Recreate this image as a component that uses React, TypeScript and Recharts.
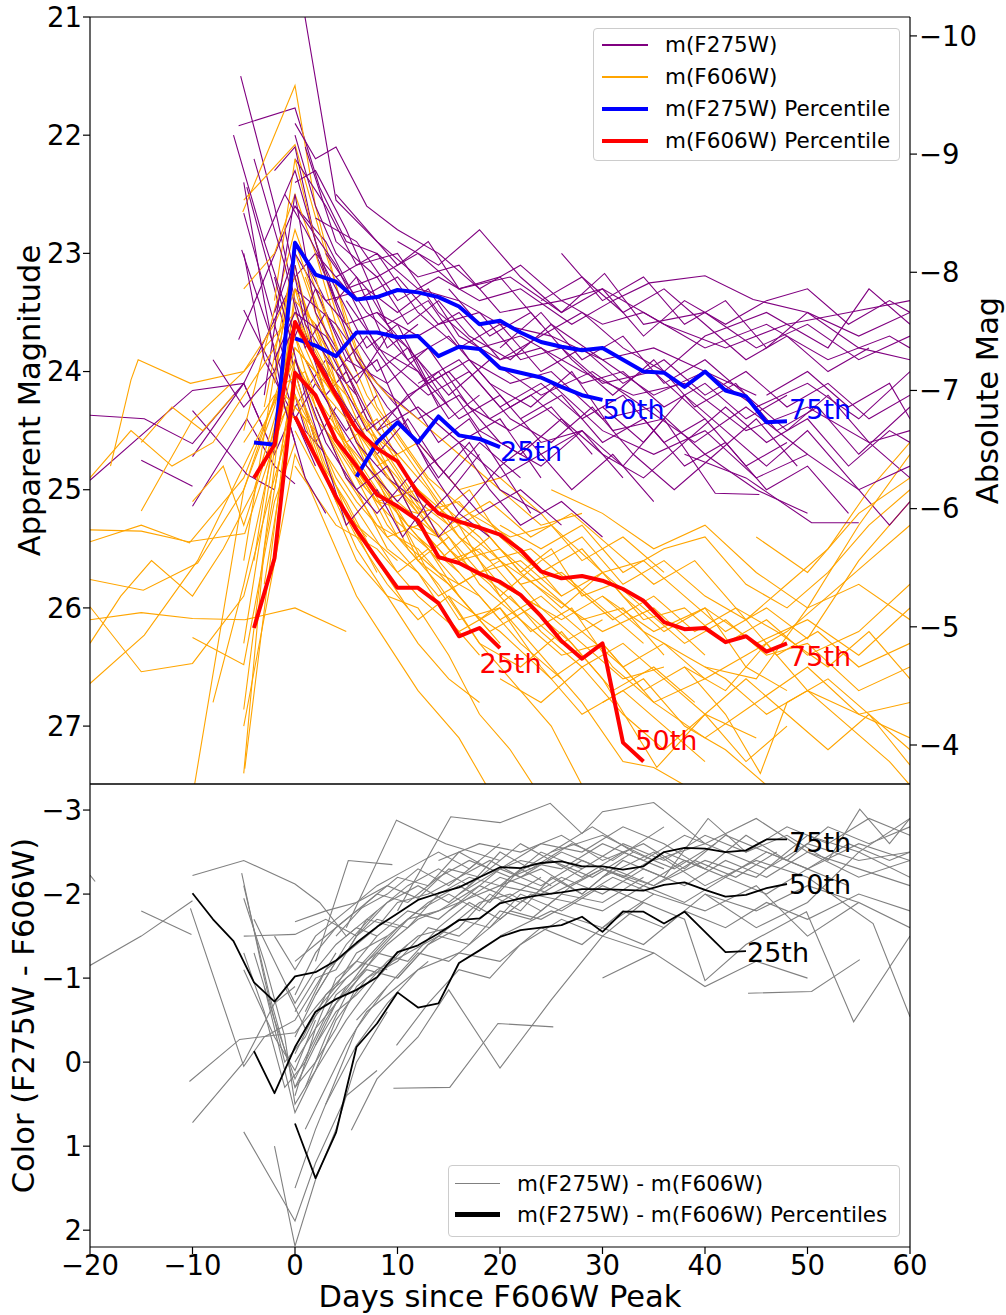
import React from 'react';
import { LineChart, Line, XAxis, YAxis, ReferenceDot, ReferenceLine } from 'recharts';

type Pt = [number, number];

// ---------- axes ----------
const xTicks = [-20, -10, 0, 10, 20, 30, 40, 50, 60];
const appMagTicks = [21, 22, 23, 24, 25, 26, 27];
const absMagTicks = [-10, -9, -8, -7, -6, -5, -4];
const colorTicks = [-3, -2, -1, 0, 1, 2];
const distanceModulus = 31.16;
const appMagDomain: Pt = [21, 27.49];
const colorDomain: Pt = [-3.31, 2.2];
const dayDomain: Pt = [-20, 60];

// ---------- individual light curves: m(F275W) ----------
const f275wCurves: Pt[][] = [
  [[-20, 24.37], [-14.7, 24.4], [-10, 24.61], [-5, 24.1], [-2, 24.7], [0, 24.3], [3, 23.9], [6, 24.2]],
  [[-20, 24.92], [-13.7, 24.44], [-10, 24.16], [-5, 24.1], [-3, 24.5]],
  [[-15, 24.75], [-10, 24.97]],
  [[-10, 25.14], [-4.7, 24.4], [-2, 24.8], [0, 24.95]],
  [[-10, 24.33], [-4.7, 24.87], [-2, 25.0]],
  [[-10, 24.72], [-7, 24.35], [-5, 24.1], [0, 23.2], [2, 23.0], [5, 23.6], [8, 23.5], [12, 23.9], [15, 24.3]],
  [[-5.3, 21.5], [-2, 22.6], [0, 23.4], [3, 24.2], [5, 24.0], [8, 24.5], [12, 24.3], [16, 24.6], [20, 24.4], [24, 24.9]],
  [[-5.5, 21.92], [0, 21.77], [2.4, 22.44], [5, 22.9], [8, 23.0], [12, 23.3], [16, 23.4], [20, 23.6], [25, 23.7], [30, 23.9], [35, 23.8], [40, 24.0], [45, 24.2]],
  [[0, 20.5], [4, 22.55], [8, 22.9], [12, 23.2], [16, 23.1], [20, 23.5], [26, 23.4], [30, 23.6], [34, 23.5], [40, 23.8], [46, 23.6], [52, 23.9], [58, 23.7], [60, 23.8]],
  [[-4.7, 22.44], [-2, 23.3], [0, 24.0], [2, 24.6], [4, 24.3]],
  [[-5, 22.66], [-2, 23.6], [1, 24.5], [3, 24.7]],
  [[-5.2, 22.97], [-2, 23.8], [0, 24.4], [2, 24.1], [5, 24.5], [8, 24.2]],
  [[-5, 23.48], [-2, 24.0], [0, 24.6]],
  [[-5.5, 23.73], [0, 22.6], [3, 22.9], [6, 23.4], [10, 23.2], [14, 23.6], [18, 23.5], [22, 23.9], [26, 23.8], [30, 24.1], [35, 24.0], [40, 24.4]],
  [[0, 22.2], [3, 22.6], [6, 23.1], [10, 23.0], [14, 23.5], [18, 23.8], [22, 23.7], [28, 24.0], [33, 24.2], [38, 24.1], [44, 24.5], [50, 24.3], [56, 24.6], [60, 24.5]],
  [[0, 22.4], [2, 22.3], [5, 22.8], [9, 23.6], [13, 23.4], [17, 23.9], [21, 24.1], [25, 24.0], [30, 24.4], [35, 24.3], [40, 24.7], [45, 25.0], [50, 25.2]],
  [[0, 22.6], [4, 23.1], [8, 23.8], [12, 24.0], [16, 24.4], [20, 24.2], [24, 24.6], [28, 24.5], [32, 24.9]],
  [[0, 22.9], [3, 23.4], [7, 23.3], [11, 23.9], [15, 23.7], [19, 24.1], [23, 24.3], [27, 24.0], [31, 24.5], [36, 24.4], [41, 25.03], [45.3, 25.04]],
  [[1, 22.1], [4, 22.9], [8, 23.2], [12, 23.0], [16, 23.3], [21, 23.2], [26, 23.5], [30.2, 23.17], [34, 23.6], [40, 23.5], [45, 23.8], [50, 23.6], [55, 23.9], [60, 23.7]],
  [[2, 22.7], [6, 22.9], [10, 23.4], [14, 23.2], [18, 23.4], [22, 23.3], [27, 23.6], [31, 23.4], [34.6, 23.25], [40, 23.19], [44.7, 23.39], [50, 23.5], [55, 23.8], [60, 23.9]],
  [[3, 23.0], [7, 23.5], [11, 23.8], [15, 24.2], [19, 23.9], [24, 24.2], [29, 24.0], [34, 24.3], [39, 24.6], [44, 24.3], [50, 24.7]],
  [[-2, 23.5], [0, 23.0], [2, 23.3], [5, 23.9], [9, 24.1], [13, 23.8], [17, 24.3], [21, 24.5], [25, 24.3], [29, 24.7]],
  [[0, 23.3], [4, 23.6], [8, 24.1], [12, 24.4], [16, 24.2], [20, 24.6], [24, 24.8], [28, 24.5]],
  [[4, 23.2], [8, 23.0], [12, 23.5], [16, 23.8], [20, 23.6], [24, 24.0], [28, 23.8], [32, 24.1], [36, 23.9], [40, 24.2], [44, 24.0], [48, 24.3], [52, 24.1], [56, 24.4], [60, 24.2]],
  [[6, 23.9], [10, 24.3], [14, 24.0], [18, 24.5], [22, 24.7], [26, 24.4], [30, 24.7], [34, 24.9], [38, 24.6], [42, 24.3], [46, 24.6], [50, 24.4], [54, 24.8], [58, 24.5], [60, 24.6]],
  [[10, 22.9], [14, 23.1], [18, 22.8], [22, 23.2], [26, 23.5], [30, 23.3], [34, 23.7], [38, 23.4], [42, 23.6], [46, 23.4], [50, 23.3], [54, 23.6], [58, 23.4], [60, 23.5]],
  [[20, 23.8], [24, 23.5], [28, 23.9], [32, 23.7], [36, 24.1], [40, 23.9], [44, 24.2], [48, 24.5], [52, 24.2], [56, 24.6], [60, 24.9]],
  [[16, 24.6], [20, 24.9], [24, 24.7], [28, 24.5], [32, 24.8], [36, 24.4]],
  [[30, 24.3], [34, 24.6], [38, 24.2], [42, 24.5], [46, 24.8], [50, 24.5], [54, 24.9], [58, 25.3], [60, 25.1]],
  [[0, 21.9], [2, 22.2], [4, 22.1], [7, 22.6], [10, 22.8], [14, 23.0], [18, 23.3], [22, 23.1], [26, 23.4], [30, 23.3], [36, 23.6], [42, 23.8], [48, 23.6], [54, 23.5], [60, 23.4]],
  [[-1, 22.8], [1, 23.6], [4, 24.0], [7, 23.7], [11, 24.2], [15, 24.0], [19, 24.4], [23, 24.2], [27, 24.5]],
  [[-3, 24.2], [0, 22.5], [2, 23.5], [4, 23.8], [7, 24.4], [10, 24.7]],
  [[-5, 23.0], [-3, 23.9], [0, 24.4], [2, 24.8]],
  [[2, 23.0], [5, 23.3], [8, 23.2], [11, 23.6], [14, 23.4], [17, 23.7], [21, 23.9], [25, 23.6], [30, 23.9], [35, 24.2], [40, 24.0], [45, 24.3], [50, 24.1], [55, 24.4], [60, 24.0]],
  [[12, 24.1], [16, 23.9], [20, 24.3], [24, 24.1], [28, 24.4], [32, 24.2], [36, 24.6], [40, 24.4], [44, 24.8], [48, 24.6]],
  [[8, 23.5], [12, 23.7], [16, 23.5], [20, 23.9], [24, 23.7], [28, 23.5], [32, 23.8], [36, 24.0], [40, 23.7], [46, 23.5], [52, 23.8], [56, 23.3], [60, 23.6]],
  [[24, 23.4], [28, 23.2], [32, 23.5], [36, 23.3], [40, 23.6], [44, 23.9], [48, 23.7], [52, 24.0], [56, 23.8]],
  [[38, 24.7], [44, 24.9], [50.4, 25.28], [55, 25.28]],
  [[-2, 22.3], [0, 22.1], [2, 22.9], [4, 23.4], [6, 23.2], [9, 23.8], [12, 23.6]],
  [[-4, 22.2], [-1, 23.1], [1, 23.8], [3, 23.5], [6, 24.0]],
  [[4, 22.5], [7, 22.8], [10, 23.1], [13, 22.9], [16, 23.3], [20, 23.2], [24, 23.6]],
  [[-8, 23.9], [-5, 24.3], [-2, 24.0], [0, 23.6], [3, 24.0], [6, 24.6], [9, 24.9], [12, 25.1]],
  [[-3, 22.9], [0, 22.3], [3, 23.2], [6, 23.9], [9, 24.3], [12, 24.6], [15, 24.9], [18, 24.6], [22, 24.9]],
  [[1, 23.9], [4, 24.4], [7, 24.8], [10, 25.1], [13, 24.8], [16, 25.2], [19, 25.4]],
  [[2, 23.6], [5, 24.1], [8, 23.9], [11, 24.5], [14, 24.9], [17, 24.6], [20, 25.0], [24, 25.2]],
  [[0, 23.1], [2, 23.9], [5, 24.3], [8, 24.7], [11, 24.4], [14, 24.8], [18, 25.2], [22, 25.0], [26, 25.3]],
  [[-1, 22.5], [1, 22.8], [4, 23.3], [7, 23.8], [10, 23.6], [13, 24.1], [17, 23.9], [21, 24.3], [25, 24.1], [30, 24.5], [35, 24.7], [40, 24.5], [45, 24.9], [50, 24.7], [55, 25.0], [60, 24.8]],
  [[5, 23.4], [9, 23.9], [13, 24.2], [17, 24.0], [21, 24.4], [25, 24.6], [29, 24.3], [33, 24.7], [37, 25.0], [41, 24.7], [45, 24.4], [49, 24.8]],
  [[15, 23.3], [19, 23.7], [23, 23.5], [27, 23.9], [31, 24.2], [35, 23.9], [39, 24.3], [43, 24.1], [47, 24.5], [51, 24.3], [55, 24.7], [60, 24.3]],
  [[22, 24.4], [26, 24.2], [30, 24.6], [34, 24.4], [38, 24.8], [42, 24.6], [46, 25.0], [50, 24.8], [54, 25.2]],
  [[-6, 22.0], [-3, 22.9], [0, 23.7], [2, 23.3], [5, 23.6], [8, 24.0], [11, 23.8], [14, 24.3]],
  [[0, 22.0], [2, 22.6], [4, 23.0], [7, 23.3], [10, 23.5], [13, 23.3], [16, 23.7], [20, 23.9], [24, 23.8], [28, 24.1], [32, 24.0], [36, 24.3], [40, 24.1], [44, 24.4], [48, 24.2]],
  [[26, 23.0], [30, 23.4], [34, 23.2], [38, 23.6], [42, 23.4], [46, 23.8], [50, 23.5], [55, 23.7], [60, 23.5]],
  [[8, 24.5], [11, 24.2], [14, 24.6], [17, 24.4], [20, 24.8], [23, 24.6], [27, 25.0], [31, 24.7], [35, 25.1]],
  [[-2, 23.9], [0, 23.5], [3, 23.7], [6, 24.1], [9, 23.7], [12, 24.0], [15, 24.4], [18, 24.2]],
  [[46, 24.2], [50, 24.0], [54, 24.3], [58, 24.1], [60, 24.4]],
  [[-2, 23.2], [1, 24.2], [5, 25.3], [8, 25.0], [10.5, 25.4], [13, 25.1]],
  [[0, 23.9], [3, 24.6], [6, 25.0], [9, 24.8], [12, 25.3], [15, 25.03], [18, 24.7]],
  [[2, 24.3], [5, 24.9], [8, 25.2], [11, 24.9], [14, 25.4], [17, 25.1], [20, 24.8], [23, 25.2]],
  [[4, 24.0], [7, 24.5], [10, 24.3], [13, 24.8], [16, 24.6], [19, 25.0], [22, 25.3], [26, 25.1], [30, 25.4]],
  [[-5, 22.4], [-3, 23.4], [-1, 24.3], [1, 24.9], [3, 25.2]],
];

// ---------- individual light curves: m(F606W) ----------
const f606wCurves: Pt[][] = [
  [[-20, 25.34], [-15, 25.35], [-10.4, 25.44], [-4.9, 25.37], [-2, 24.6], [0, 24.1], [3, 24.8], [6, 25.3], [10, 25.6]],
  [[-20, 25.44], [-15, 25.3], [-10.3, 25.45], [-5, 24.9], [0, 23.8], [2, 24.0], [5, 24.6], [8, 25.0], [12, 25.4], [16, 25.8], [20, 25.6], [24, 26.0]],
  [[-20, 25.76], [-14.8, 25.85], [-9.5, 25.62], [-5, 25.0], [-2, 24.3], [0, 23.6], [3, 24.2], [6, 24.9], [9, 25.2], [13, 25.5]],
  [[-20, 26.1], [-15, 26.04], [-10, 26.09], [-4.9, 26.1], [0, 26.0], [5, 26.2]],
  [[-20, 25.99], [-15, 26.54], [-10, 26.47], [-5, 25.9], [-2, 24.9], [0, 24.3], [2, 24.5], [5, 25.2], [8, 25.7]],
  [[-20, 26.64], [-14.7, 26.23], [-9.5, 25.6], [-5, 24.8], [0, 23.9], [3, 24.4], [6, 24.7], [10, 25.1], [14, 25.4]],
  [[-10, 26.25], [-5, 26.48], [-2, 25.1], [0, 24.6]],
  [[-15, 25.18], [-10, 24.41], [-5, 24.0], [0, 23.5], [3, 24.1], [6, 24.5], [10, 25.0], [14, 25.3], [18, 25.7], [22, 25.6], [26, 25.9]],
  [[-10, 27.6], [-5, 25.0], [0, 23.7], [2, 24.3], [5, 24.9], [8, 25.3], [12, 25.5], [16, 25.9], [20, 26.3]],
  [[-5, 26.86], [-2, 24.8], [0, 23.3], [2, 23.9], [4, 24.5], [7, 24.9], [10, 25.4], [14, 25.7], [18, 25.9], [22, 26.3], [26, 26.6]],
  [[-4.9, 27.36], [0, 23.9], [2, 24.4], [5, 24.7], [8, 25.1], [12, 25.2], [16, 25.6], [20, 25.5], [24, 25.8], [28, 26.1], [32, 26.0], [36, 26.4]],
  [[-18, 24.8], [-16, 24.07], [-15.3, 23.9], [-10.2, 24.1], [-5, 24.0], [-2, 23.6], [0, 23.2], [3, 23.9], [6, 24.5]],
  [[-5.1, 22.65], [0, 21.58], [2, 22.6], [5, 23.6], [8, 24.3], [12, 24.8], [16, 25.3], [20, 25.6], [25, 25.9], [30, 26.2], [35, 26.0], [40, 26.4]],
  [[-5, 22.55], [0, 22.08], [3, 23.0], [6, 23.8], [9, 24.4], [13, 24.9], [17, 25.2], [21, 25.4], [25, 25.3], [30, 25.7]],
  [[-5, 23.3], [-2, 23.0], [0, 22.5], [2, 23.0], [4, 23.6], [7, 24.2], [10, 24.6], [14, 25.1], [18, 25.4], [22, 25.8], [26, 25.7], [30, 26.0], [34, 26.3]],
  [[-5, 24.5], [0, 22.8], [2, 23.3], [5, 24.0], [8, 24.6], [11, 25.0], [15, 25.5], [19, 25.8], [23, 26.2], [27, 26.0], [31, 26.5], [35, 26.8], [40, 26.6]],
  [[-4, 25.6], [0, 23.4], [2, 23.6], [4, 24.2], [7, 24.8], [10, 25.2], [13, 25.7], [16, 26.1], [20, 26.0], [24, 26.4], [28, 26.8], [32, 27.3], [35, 27.35], [40, 27.6]],
  [[-3, 24.3], [0, 23.0], [2, 23.5], [5, 24.4], [8, 24.9], [11, 25.3], [14, 25.4], [18, 25.2], [22, 25.5], [26, 25.9], [30, 25.7], [34, 25.6], [38, 25.9], [42, 26.2], [46, 26.0], [50, 26.26], [55, 25.6], [60, 25.1]],
  [[-2, 25.0], [0, 24.0], [2, 24.2], [5, 24.6], [8, 24.4], [11, 24.9], [14, 25.2], [17, 25.0], [20, 25.4], [24, 25.7], [28, 25.5], [32, 25.9], [36, 26.2], [40, 26.0], [44, 26.5], [48, 26.7]],
  [[0, 24.5], [3, 25.0], [6, 25.6], [9, 25.9], [12, 26.0], [15, 26.4], [18, 26.9], [21, 27.2], [24, 27.6]],
  [[0, 23.5], [3, 24.0], [6, 24.6], [9, 25.0], [12, 25.6], [15, 25.4], [18, 25.8], [22, 26.1], [26, 26.4], [30, 26.3], [34, 26.7], [38, 26.5], [42, 26.9], [45.4, 27.4], [48, 26.8], [52, 26.6], [56, 26.9], [60, 27.33]],
  [[1, 23.2], [4, 23.9], [7, 24.5], [10, 24.7], [13, 25.0], [16, 25.4], [19, 25.6], [23, 25.5], [27, 25.8], [31, 26.1], [35, 25.9], [39, 26.2], [43, 26.0], [47, 26.4], [51, 26.2], [55, 26.5], [60, 26.3]],
  [[2, 24.0], [5, 24.3], [8, 24.9], [11, 25.5], [14, 25.8], [18, 26.3], [22, 26.5], [26, 26.2], [30, 26.6], [35.3, 27.35], [40, 26.9], [45, 27.1]],
  [[5, 24.7], [8, 25.1], [12, 25.0], [16, 25.3], [20, 25.9], [24, 25.6], [28, 25.4], [32, 25.8], [36, 25.6], [40, 25.9], [44, 26.1], [48, 25.8], [52, 25.5], [56, 25.0], [60, 24.6]],
  [[10, 25.2], [14, 25.6], [18, 25.3], [22, 25.7], [26, 26.0], [30, 25.7], [34, 26.0], [38, 26.3], [42, 26.1], [46, 26.4], [50, 26.3], [55, 26.7], [60, 26.5]],
  [[15, 25.9], [20, 26.2], [25, 26.6], [30, 26.3], [35, 26.8], [40, 27.1], [45, 26.8], [50, 26.5], [55, 26.9], [60, 27.1]],
  [[20, 25.3], [24, 25.5], [28, 25.3], [32, 25.7], [36, 25.5], [40, 25.4], [44, 25.8], [48, 26.0], [52, 25.7], [56, 25.3], [60, 25.0]],
  [[25, 25.0], [30, 25.2], [35, 25.5], [40, 25.3], [45, 25.7], [50, 26.0], [55, 25.8], [60, 26.1]],
  [[-1, 24.2], [1, 24.4], [3, 24.9], [6, 25.4], [9, 25.8], [12, 26.1], [15, 25.9], [18, 26.3], [21, 26.6], [25, 27.0], [28, 27.5]],
  [[0, 22.9], [2, 23.4], [4, 23.9], [6, 24.3], [9, 24.7], [12, 25.1], [15, 25.3], [19, 25.1], [23, 25.4], [27, 25.2], [31, 25.5], [35, 25.8], [39, 25.6], [43, 26.0], [47, 26.2], [52, 26.5], [56, 26.2], [60, 26.6]],
  [[-5, 25.6], [-2, 24.0], [0, 23.1], [2, 23.8], [5, 24.3], [8, 24.7], [12, 25.2], [16, 25.1], [20, 25.5]],
  [[-3, 25.8], [0, 24.2], [3, 24.7], [6, 25.1], [10, 25.5], [14, 25.9], [18, 25.7], [22, 26.0], [26, 26.3], [30, 26.1]],
  [[-5, 26.3], [-3, 25.2], [0, 23.6], [3, 24.0], [6, 24.3], [9, 24.8], [12, 25.3], [16, 25.7]],
  [[0, 24.8], [4, 25.3], [8, 25.5], [12, 25.9], [16, 26.2], [20, 26.0], [24, 26.5], [28, 26.9], [32, 26.7], [36, 27.0], [40, 27.3]],
  [[30, 25.9], [35, 26.2], [40, 26.0], [45, 26.3], [50, 26.1], [55, 26.4], [60, 26.0]],
  [[38, 26.5], [42, 26.7], [46, 26.3], [50, 26.7], [54, 27.0], [58, 27.3], [60, 27.5]],
  [[40, 26.5], [45, 26.6], [50, 26.0], [55, 25.3], [60, 24.7]],
  [[8, 24.8], [12, 24.6], [16, 25.0], [20, 24.9], [24, 25.2], [28, 25.6], [32, 25.4], [36, 25.7]],
  [[-2, 23.4], [0, 22.2], [2, 22.9], [4, 23.5], [6, 23.9], [9, 24.2], [12, 24.4], [16, 24.7], [20, 25.0], [24, 25.3], [28, 25.2]],
  [[-5, 27.4], [-3, 25.5], [0, 24.0], [2, 24.6], [4, 25.1], [7, 25.4]],
  [[-5, 27.0], [0, 24.7], [3, 25.3], [6, 25.9], [9, 26.3], [12, 26.7], [16, 27.1], [20, 27.7]],
  [[-20, 24.9], [-16, 24.5], [-12, 24.8], [-8, 24.6], [-5, 24.2], [-2, 23.8], [0, 23.3], [3, 23.8], [6, 24.4], [9, 24.9], [12, 25.2]],
  [[-20, 26.3], [-17, 25.9], [-14, 25.6], [-10, 25.9], [-7, 25.5], [-4, 25.0], [-1, 24.1], [1, 24.0], [4, 24.6], [7, 25.0]],
  [[-8, 26.8], [-5, 25.8], [-2, 24.6], [0, 23.9], [3, 24.5], [6, 25.0], [9, 25.5], [12, 25.7], [15, 26.1], [18, 26.4]],
  [[-3, 24.8], [0, 23.8], [2, 24.0], [4, 24.4], [6, 24.8], [9, 25.3], [12, 25.6], [15, 25.8], [18, 26.1], [21, 25.9], [24, 26.2], [28, 26.5], [32, 26.3], [36, 26.6], [40, 26.9], [44, 26.6], [48, 26.9], [52, 27.2], [56, 26.9], [60, 27.2]],
  [[0, 23.7], [2, 24.1], [4, 24.3], [7, 24.6], [10, 24.9], [13, 25.3], [16, 25.6], [19, 25.4], [22, 25.7], [25, 25.5], [28, 25.9], [31, 25.8], [34, 26.1], [38, 26.0], [42, 26.3], [46, 26.1], [50, 26.4], [55, 26.2], [60, 25.8]],
  [[1, 24.3], [4, 24.9], [7, 25.3], [10, 25.7], [13, 25.5], [16, 25.9], [19, 26.2], [23, 26.0], [27, 26.3], [31, 26.7], [35, 26.5], [39, 26.8]],
  [[3, 24.5], [6, 24.9], [9, 25.4], [12, 25.3], [15, 25.6], [18, 25.5], [22, 25.9], [26, 26.1], [30, 25.9], [34, 26.2], [38, 26.4], [42, 26.6], [46, 26.9], [50, 26.7], [55, 26.9], [60, 26.8]],
  [[-5, 24.6], [-2, 24.2], [0, 24.4], [3, 24.9], [6, 25.5], [9, 25.9], [12, 26.3], [15, 26.6], [18, 26.8]],
  [[12, 25.4], [16, 25.7], [20, 26.1], [24, 25.9], [28, 26.2], [32, 26.5], [36, 26.3], [40, 26.6], [44, 26.4], [48, 26.2], [52, 25.9], [56, 25.6], [60, 25.3]],
  [[-2, 24.1], [0, 22.9], [2, 23.2], [4, 23.8], [6, 24.1], [8, 24.5], [11, 24.9], [14, 25.2], [17, 25.5], [20, 25.8], [24, 26.0], [28, 26.3], [32, 26.6], [36, 26.5]],
  [[20, 26.6], [24, 26.8], [28, 26.5], [32, 26.9], [36, 27.2], [40, 26.9], [44, 27.3], [48, 27.0]],
  [[45, 25.4], [50, 25.7], [55, 25.2], [60, 24.9]],
  [[-15, 24.6], [-12, 24.3], [-9, 24.5], [-6, 24.2]],
  [[-10, 25.1], [-7, 24.8], [-5, 25.3], [-2, 24.5], [0, 24.2], [2, 24.7], [5, 25.1], [8, 25.6], [11, 26.0]],
  [[30, 26.8], [34, 26.6], [38, 27.0], [42, 27.2], [46, 27.5]],
];

// ---------- individual colour curves: m(F275W) - m(F606W) ----------
const colorCurves: Pt[][] = [
  [[-20, -1.15], [-15, -1.5], [-10, -1.92]],
  [[-20.5, -2.3], [-19.5, -2.15]],
  [[-15, -1.8], [-10.1, -1.52]],
  [[-10, -2.22], [-5, -2.4], [0, -2.12], [2.4, -1.9], [5, -1.5], [8, -1.8]],
  [[-10.2, -1.83], [-5, 0.05], [-3, -0.3], [0, -0.5], [2, -0.9], [4, -1.3]],
  [[-10.3, 0.23], [-5.4, -0.27], [0, -0.35], [3, -0.8], [6, -1.2], [9, -1.1]],
  [[-10, 0.72], [-5, 0.0], [-2, -0.7], [0, -0.9]],
  [[-5, 0.83], [0, 1.89], [2, 1.2], [5, 0.4], [8, 0.1]],
  [[-2, 1.0], [0, 2.19], [2, 1.4], [4, 0.8], [6, 0.0], [9, -0.6]],
  [[-5.2, -2.25], [-3, -1.0], [-1, 0.0], [1, -0.3], [3, -0.8], [6, -1.1], [9, -1.5]],
  [[-5, -2.1], [-2.5, -0.8], [0, 0.3], [2, -0.2], [4, -0.7], [7, -1.2], [10, -1.6]],
  [[-5, -1.95], [-3, -1.2], [-1, -0.3], [0, 0.5], [2, 0.1], [5, -0.5], [8, -1.0], [11, -1.4]],
  [[-5, -1.5], [0, -1.52], [3, -1.7], [6, -1.5], [9, -1.9], [12, -2.1], [15, -1.9], [19, -2.3]],
  [[0, -1.67], [3, -1.8], [6, -1.9], [9, -2.1], [12, -1.95], [15, -2.3], [18, -2.2], [22, -2.4], [26, -2.3], [30, -2.6], [34, -2.4], [38, -2.7], [42, -2.5], [46, -2.3], [50, -2.6], [55, -2.4], [60, -2.5]],
  [[-4, -1.3], [-2, -0.5], [0, 0.2], [2, -0.3], [4, -0.8], [6, -1.0], [9, -1.4], [12, -1.7], [16, -1.9], [20, -2.1], [24, -2.0], [28, -2.3]],
  [[-3, -0.9], [0, 0.6], [2, 0.1], [4, -0.5], [7, -1.0], [10, -1.2], [13, -1.6], [16, -1.5], [20, -1.9], [24, -2.2]],
  [[0, -0.1], [2, -0.6], [4, -0.9], [6, -1.3], [9, -1.5], [12, -1.8], [15, -2.0], [18, -1.8], [21, -2.2], [25, -2.4], [29, -2.2], [33, -2.5], [37, -2.3], [41, -2.6]],
  [[0, 0.4], [2, -0.4], [4, -0.7], [7, -1.1], [10, -1.0], [13, -1.4], [16, -1.7], [19, -1.6], [22, -2.0], [26, -1.8], [30, -2.1], [34, -1.9]],
  [[0, -0.6], [2, -1.0], [4, -1.1], [6, -1.5], [8, -1.7], [11, -1.6], [14, -2.0], [17, -2.2], [20, -2.1], [24, -2.5], [28, -2.3], [32, -2.6], [36, -2.4], [40, -2.7], [44, -2.5], [48, -2.8], [52, -2.6], [56, -2.9], [60, -2.7]],
  [[1, 0.3], [3, -0.3], [5, -0.8], [8, -1.3], [11, -1.2], [14, -1.6], [17, -1.9], [20, -1.7], [23, -2.0], [27, -1.9], [31, -2.2], [35, -2.0]],
  [[2, -1.2], [5.2, -2.4], [9.5, -2.35]],
  [[5, -1.6], [9.9, -2.88], [14.7, -2.6], [20, -2.4]],
  [[10, -1.8], [15.2, -2.92], [20, -2.85], [24.9, -3.08], [28, -2.72], [30, -2.98], [35, -3.09], [40, -2.6]],
  [[20, -2.1], [24, -2.3], [28, -2.0], [32, -2.4], [36, -2.2], [40.3, -2.9], [44, -2.5], [48, -2.7], [52, -2.4], [55.1, -3.01], [58, -2.6], [60, -2.9]],
  [[9.6, 0.31], [15.1, 0.3], [19.8, -0.46], [25.2, -0.42]],
  [[5.5, 0.81], [8, 0.2], [12, -0.3], [15, -0.86], [20, 0.07], [25, -0.74], [30, -1.5], [35, -1.3]],
  [[9.9, -0.2], [13, -0.7], [16, -1.1], [19, -1.0], [22, -1.4], [26, -1.7], [30, -1.5], [34, -1.9], [38, -1.7], [40, -0.97], [44, -1.4], [49.9, -1.79], [54.5, -0.48], [60, -1.5]],
  [[44.2, -0.82], [50.4, -0.84], [55.1, -1.22]],
  [[30, -2.2], [35, -2.5], [40, -2.1], [45, -2.4], [50, -2.2], [56.4, -1.65], [60, -0.54]],
  [[20, -1.5], [25, -1.8], [30, -1.6], [35, -2.0], [40, -1.8], [45, -2.1], [50, -1.5], [55, -1.9], [60, -1.6]],
  [[14, -2.4], [18, -2.6], [22, -2.5], [26, -2.7], [30, -2.4], [34, -2.6], [38, -2.3], [42, -2.7], [46, -2.5], [50, -2.3], [54, -2.6], [58, -2.4], [60, -2.5]],
  [[2, -0.8], [5, -1.4], [8, -1.8], [11, -2.1], [14, -2.3], [17, -2.1], [20, -2.5], [23, -2.3], [27, -2.6], [31, -2.4], [36, -2.8]],
  [[3, 0.5], [6, -0.2], [9, -0.7], [12, -1.1], [16, -1.3], [20, -1.2], [24, -1.6], [28, -1.4], [32, -1.8], [36, -1.6], [40, -2.0], [45, -1.8], [50, -2.1], [55, -1.9]],
  [[30, -1.0], [35, -1.3], [40, -0.9], [45, -1.2], [50, -1.0]],
  [[25, -2.5], [30, -2.7], [35, -2.4], [40, -2.6], [45, -2.9], [50, -2.5], [55, -2.2], [60, -2.4]],
  [[0, -1.2], [2, -1.4], [5, -1.7], [8, -2.0], [11, -1.9], [14, -2.2], [17, -2.4], [21, -2.2], [25, -2.5], [29, -2.8], [33, -2.5]],
  [[-1, -0.9], [1, -0.4], [3, -0.7], [5, -1.0], [8, -1.3], [11, -1.7], [14, -1.8], [18, -2.1], [22, -1.9], [26, -2.2], [30, -2.0], [34, -2.3], [38, -2.1], [42, -2.4], [46, -2.2], [50, -2.5], [55, -2.3], [60, -2.1]],
  [[40, -2.0], [45, -1.6], [50, -1.9], [55, -2.5], [60, -2.9]],
  [[0, 1.5], [2, 0.8], [4, 0.2], [6, -0.4], [9, -0.9]],
  [[-5, -1.1], [-2, -0.3], [0, 0.1], [2, -0.5]],
  [[15, -1.8], [20, -2.2], [25, -2.0], [30, -2.3], [35, -2.1], [40, -2.4], [45, -2.2], [50, -2.7], [55, -2.5], [60, -2.2]],
  [[0, -0.3], [2, -0.8], [4, -1.2], [6, -1.4], [8, -1.6], [10, -1.9], [13, -2.0], [16, -2.2], [19, -2.4], [22, -2.2], [26, -2.5], [30, -2.3]],
  [[0, 0.0], [2, -0.4], [4, -1.0], [6, -1.2], [8, -1.5], [11, -1.8], [14, -1.7], [17, -2.0], [20, -2.3], [24, -2.1], [28, -2.4], [32, -2.2], [36, -2.5], [40, -2.3]],
  [[1, -0.6], [3, -1.1], [5, -1.3], [7, -1.7], [10, -1.6], [13, -1.9], [16, -2.1], [19, -1.9], [22, -2.3], [25, -2.1]],
  [[0, 0.3], [2, 0.0], [4, -0.4], [6, -0.9], [8, -1.1], [11, -1.3], [14, -1.5], [17, -1.4], [20, -1.8], [23, -1.7], [26, -2.0], [30, -1.9], [34, -2.2]],
  [[2, -0.2], [4, -0.6], [6, -0.8], [9, -1.2], [12, -1.5], [15, -1.6], [18, -1.9], [21, -2.0], [24, -1.8], [27, -2.1], [30, -2.3], [34, -2.1], [38, -2.4], [42, -2.2], [46, -2.5], [50, -2.3], [55, -2.6], [60, -2.4]],
  [[4, -1.5], [7, -1.9], [10, -2.2], [13, -2.1], [16, -2.5], [19, -2.3], [22, -2.6], [25, -2.4], [28, -2.2], [32, -2.5], [36, -2.3]],
  [[6, -0.5], [9, -0.9], [12, -1.3], [15, -1.2], [18, -1.5], [21, -1.8], [24, -1.7], [27, -1.9], [30, -1.8], [34, -2.1], [38, -1.9], [42, -2.2], [46, -2.0], [50, -2.3], [54, -2.1]],
  [[-4, -1.7], [-2, -1.2], [0, -0.7], [2, -1.1], [4, -1.4], [6, -1.6], [8, -1.5]],
  [[-5, -1.3], [-3, -0.6], [-1, 0.3], [1, 0.0], [3, -0.5], [5, -0.9]],
  [[10, -1.0], [13, -1.4], [16, -1.6], [19, -2.0], [22, -1.8], [25, -2.2], [28, -2.0], [31, -2.3], [35, -2.1], [39, -2.4], [43, -2.2], [47, -2.5]],
  [[0, -0.8], [2, -1.3], [4, -1.6], [6, -1.8], [9, -2.0], [12, -2.3], [15, -2.1], [18, -2.4]],
  [[16, -2.0], [20, -2.3], [24, -2.6], [28, -2.5], [32, -2.8], [36, -2.6], [40, -2.3], [44, -2.7], [48, -2.4], [52, -2.8], [56, -2.6], [60, -2.8]],
  [[30, -1.6], [34, -1.4], [38, -1.8], [42, -1.6], [46, -1.9], [50, -1.7], [55, -2.0], [60, -1.8]],
  [[1, 0.8], [3, 0.3], [5, -0.2], [7, -0.6], [10, -0.9], [13, -1.2]],
  [[-2, -1.5], [0, -1.1], [2, -1.5], [5, -1.8], [8, -2.1], [11, -2.3], [14, -2.5], [17, -2.3], [20, -2.6]],
];

// ---------- percentile curves ----------
const f275wP75: Pt[] = [[-4, 24.6], [-2, 24.62], [0, 22.91], [2, 23.18], [4, 23.24], [6, 23.39], [8, 23.37], [10, 23.31], [12, 23.33], [14, 23.37], [16, 23.45], [18, 23.6], [20, 23.57], [22, 23.67], [24, 23.75], [26, 23.79], [28, 23.82], [30, 23.8], [32, 23.9], [34, 24.0], [36, 24.01], [38, 24.13], [40, 24.0], [42, 24.16], [44, 24.21], [46, 24.43], [48, 24.42]];
const f275wP50: Pt[] = [[0, 23.72], [2, 23.78], [4, 23.87], [6, 23.67], [8, 23.67], [10, 23.71], [12, 23.7], [14, 23.87], [16, 23.79], [18, 23.81], [20, 23.97], [22, 24.01], [24, 24.05], [26, 24.13], [28, 24.2], [30, 24.24]];
const f275wP25: Pt[] = [[6, 24.89], [8, 24.6], [10, 24.43], [12, 24.6], [14, 24.38], [16, 24.54], [18, 24.57], [20, 24.64]];

const f606wP75: Pt[] = [[-4, 24.9], [-2, 24.62], [0, 23.58], [4, 24.2], [6, 24.49], [8, 24.65], [10, 24.76], [12, 25.03], [14, 25.2], [16, 25.27], [18, 25.32], [20, 25.38], [22, 25.51], [24, 25.69], [26, 25.75], [28, 25.73], [30, 25.77], [32, 25.84], [34, 25.94], [36, 26.12], [38, 26.18], [40, 26.17], [42, 26.29], [44, 26.24], [46, 26.37], [48, 26.3]];
const f606wP50: Pt[] = [[-4, 26.17], [-2, 25.58], [0, 24.01], [2, 24.2], [4, 24.58], [6, 24.8], [8, 25.04], [10, 25.14], [12, 25.26], [14, 25.57], [16, 25.62], [18, 25.71], [20, 25.78], [22, 25.89], [24, 26.07], [26, 26.28], [28, 26.43], [30, 26.3], [32, 27.14], [34, 27.3]];
const f606wP25: Pt[] = [[0, 24.38], [2, 24.72], [4, 25.06], [6, 25.34], [8, 25.59], [10, 25.83], [12, 25.83], [14, 25.96], [16, 26.24], [18, 26.17], [20, 26.34]];

const colorP75: Pt[] = [[-10, -2.01], [-8, -1.7], [-6, -1.44], [-4, -0.95], [-2, -0.72], [0, -1.02], [2, -1.07], [4, -1.21], [6, -1.42], [8, -1.61], [10, -1.77], [12, -1.93], [14, -2.01], [16, -2.08], [18, -2.2], [20, -2.32], [22, -2.31], [24, -2.37], [26, -2.39], [28, -2.33], [30, -2.33], [32, -2.29], [34, -2.33], [36, -2.5], [38, -2.55], [40, -2.54], [42, -2.5], [44, -2.52], [46, -2.65], [48, -2.65]];
const colorP50: Pt[] = [[-4, -0.13], [-2, 0.37], [0, -0.18], [2, -0.6], [4, -0.75], [6, -0.86], [8, -1.01], [10, -1.31], [12, -1.39], [14, -1.53], [16, -1.69], [18, -1.71], [20, -1.89], [22, -1.95], [24, -1.99], [26, -2.02], [28, -2.06], [30, -2.06], [32, -2.05], [34, -2.04], [36, -2.11], [38, -2.14], [40, -2.05], [42, -1.97], [44, -1.99], [46, -2.07], [48, -2.12]];
const colorP25: Pt[] = [[0, 0.73], [2, 1.38], [4, 0.84], [6, -0.18], [8, -0.46], [10, -0.83], [12, -0.65], [14, -0.7], [16, -1.18], [18, -1.33], [20, -1.49], [22, -1.57], [24, -1.6], [26, -1.63], [28, -1.73], [30, -1.55], [32, -1.79], [34, -1.79], [36, -1.65], [38, -1.79], [40, -1.55], [42, -1.31], [44, -1.32]];

// percentile label anchors (day, value)
const magPctLabels = [
  { text: '25th', t: 20.0, v: 24.68, band: 'uv' },
  { text: '50th', t: 30.0, v: 24.32, band: 'uv' },
  { text: '75th', t: 48.2, v: 24.32, band: 'uv' },
  { text: '25th', t: 18.0, v: 26.47, band: 'opt' },
  { text: '50th', t: 33.2, v: 27.12, band: 'opt' },
  { text: '75th', t: 48.2, v: 26.41, band: 'opt' },
];
const colorPctLabels = [
  { text: '75th', t: 48.2, v: -2.61 },
  { text: '50th', t: 48.2, v: -2.12 },
  { text: '25th', t: 44.1, v: -1.31 },
];

// ---------- styling ----------
const FONT = 'DejaVu Sans';
const PURPLE = '#800080';
const ORANGE = '#ffa500';
const BLUE = '#0000ff';
const RED = '#ff0000';
const GRAY = '#808080';
const TICK_FS = 27.5;
const LABEL_FS = 30.5;
const LEGEND_FS = 21.5;

const toObj = (pts: Pt[]) => pts.map(([t, m]) => ({ t, m }));
const fmt = (v: number) => (v < 0 ? '\u2212' + Math.abs(v) : String(v));

function VLabel(props: any) {
  const { viewBox, value, bx, fallbackY } = props;
  const cy = viewBox && viewBox.height != null ? viewBox.y + viewBox.height / 2 : fallbackY;
  return (
    <text x={bx} y={cy} transform={`rotate(-90 ${bx} ${cy})`} textAnchor="middle" fontSize={LABEL_FS} fontFamily={FONT} fill="#000">
      {value}
    </text>
  );
}

function XLabel(props: any) {
  const { viewBox, value } = props;
  const cx = viewBox ? viewBox.x + viewBox.width / 2 : 500;
  const y = viewBox ? viewBox.y + 59.5 : 536.5;
  return (
    <text x={cx} y={y} textAnchor="middle" fontSize={LABEL_FS} fontFamily={FONT} fill="#000">
      {value}
    </text>
  );
}

const axisLine = { stroke: '#000', strokeWidth: 1.2 };
const tickStyle = { fontSize: TICK_FS, fill: '#000', fontFamily: FONT };

function thinLine(pts: Pt[], color: string, key: string) {
  return (
    <Line
      key={key}
      data={toObj(pts)}
      dataKey="m"
      xAxisId="x"
      yAxisId="left"
      type="linear"
      stroke={color}
      strokeWidth={1.1}
      dot={false}
      activeDot={false}
      isAnimationActive={false}
      legendType="none"
    />
  );
}

function pctLine(pts: Pt[], color: string, width: number, key: string) {
  return (
    <Line
      key={key}
      data={toObj(pts)}
      dataKey="m"
      xAxisId="x"
      yAxisId="left"
      type="linear"
      stroke={color}
      strokeWidth={width}
      strokeLinejoin="round"
      dot={false}
      activeDot={false}
      isAnimationActive={false}
      legendType="none"
    />
  );
}

function LegendRow({ color, width, text, h, lineLeft, lineW, gap }: any) {
  return (
    <div style={{ display: 'flex', alignItems: 'center', height: h }}>
      <div style={{ marginLeft: lineLeft, width: lineW, height: width, background: color }} />
      <div style={{ marginLeft: gap, fontSize: LEGEND_FS, fontFamily: FONT, color: '#000', whiteSpace: 'nowrap', lineHeight: 1 }}>{text}</div>
    </div>
  );
}

export default function App() {
  const nTop = Math.max(f275wCurves.length, f606wCurves.length);
  const topThin: React.ReactNode[] = [];
  for (let i = 0; i < nTop; i++) {
    if (f275wCurves[i]) topThin.push(thinLine(f275wCurves[i], PURPLE, 'p' + i));
    if (f606wCurves[i]) topThin.push(thinLine(f606wCurves[i], ORANGE, 'o' + i));
  }
  const absDomain: Pt = [appMagDomain[0] - distanceModulus, appMagDomain[1] - distanceModulus];

  return (
    <div style={{ position: 'absolute', left: 0, top: 0, width: 1006, height: 1315, background: '#fff', overflow: 'hidden' }}>
      {/* ---------- top panel ---------- */}
      <div style={{ position: 'absolute', left: 0, top: 0 }}>
        <LineChart width={1006} height={790} margin={{ top: 17, right: 0, bottom: 6, left: 0 }}>
          <XAxis xAxisId="x" type="number" dataKey="t" domain={dayDomain} allowDataOverflow ticks={xTicks} hide />
          <YAxis
            yAxisId="left"
            orientation="left"
            type="number"
            width={90}
            domain={appMagDomain}
            allowDataOverflow
            reversed
            ticks={appMagTicks}
            tickFormatter={fmt}
            tick={tickStyle}
            tickSize={7}
            tickMargin={1}
            axisLine={axisLine}
            tickLine={axisLine}
            label={<VLabel value="Apparent Magnitude" bx={40} fallbackY={400} />}
          />
          <YAxis
            yAxisId="right"
            orientation="right"
            type="number"
            width={96}
            domain={absDomain}
            allowDataOverflow
            reversed
            ticks={absMagTicks}
            tickFormatter={fmt}
            tick={tickStyle}
            tickSize={7}
            tickMargin={2}
            axisLine={axisLine}
            tickLine={axisLine}
            label={<VLabel value="Absolute Mag" bx={998} fallbackY={400} />}
          />
          <Line data={[]} dataKey="m" xAxisId="x" yAxisId="right" stroke="none" dot={false} activeDot={false} isAnimationActive={false} legendType="none" />
          {topThin}
          {pctLine(f275wP75, BLUE, 4, 'b75')}
          {pctLine(f275wP50, BLUE, 4, 'b50')}
          {pctLine(f275wP25, BLUE, 4, 'b25')}
          {pctLine(f606wP75, RED, 4, 'r75')}
          {pctLine(f606wP50, RED, 4, 'r50')}
          {pctLine(f606wP25, RED, 4, 'r25')}
          <ReferenceLine xAxisId="x" yAxisId="left" y={appMagDomain[0]} stroke="#000" strokeWidth={1.2} ifOverflow="visible" />
          <ReferenceLine xAxisId="x" yAxisId="left" y={appMagDomain[1]} stroke="#000" strokeWidth={1.2} ifOverflow="visible" />
          {magPctLabels.map((l, i) => (
            <ReferenceDot
              key={'ml' + i}
              xAxisId="x"
              yAxisId="left"
              x={l.t}
              y={l.v}
              r={0}
              fill="none"
              stroke="none"
              label={{ value: l.text, position: 'right', offset: 0, fill: l.band === 'uv' ? BLUE : RED, fontSize: 27, fontFamily: FONT }}
            />
          ))}
        </LineChart>
      </div>

      {/* ---------- bottom panel ---------- */}
      <div style={{ position: 'absolute', left: 0, top: 770 }}>
        <LineChart width={1006} height={545} margin={{ top: 14, right: 0, bottom: 0, left: 0 }}>
          <XAxis
            xAxisId="x"
            type="number"
            dataKey="t"
            domain={dayDomain}
            allowDataOverflow
            ticks={xTicks}
            tickFormatter={fmt}
            height={68}
            tick={tickStyle}
            tickSize={7}
            tickMargin={1}
            axisLine={axisLine}
            tickLine={axisLine}
            label={<XLabel value="Days since F606W Peak" />}
          />
          <YAxis
            yAxisId="left"
            orientation="left"
            type="number"
            width={90}
            domain={colorDomain}
            allowDataOverflow
            reversed
            ticks={colorTicks}
            tickFormatter={fmt}
            tick={tickStyle}
            tickSize={7}
            tickMargin={1}
            axisLine={axisLine}
            tickLine={axisLine}
            label={<VLabel value="Color (F275W - F606W)" bx={33.5} fallbackY={245} />}
          />
          <YAxis yAxisId="right" orientation="right" type="number" width={96} domain={[0, 1]} tick={false} tickLine={false} axisLine={axisLine} />
          <Line data={[]} dataKey="m" xAxisId="x" yAxisId="right" stroke="none" dot={false} activeDot={false} isAnimationActive={false} legendType="none" />
          {colorCurves.map((c, i) => thinLine(c, GRAY, 'g' + i))}
          {pctLine(colorP75, '#000', 1.8, 'k75')}
          {pctLine(colorP50, '#000', 1.8, 'k50')}
          {pctLine(colorP25, '#000', 1.8, 'k25')}
          <ReferenceLine xAxisId="x" yAxisId="left" y={colorDomain[0]} stroke="#000" strokeWidth={1.2} ifOverflow="visible" />
          {colorPctLabels.map((l, i) => (
            <ReferenceDot
              key={'cl' + i}
              xAxisId="x"
              yAxisId="left"
              x={l.t}
              y={l.v}
              r={0}
              fill="none"
              stroke="none"
              label={{ value: l.text, position: 'right', offset: 0, fill: '#000', fontSize: 27, fontFamily: FONT }}
            />
          ))}
        </LineChart>
      </div>

      {/* ---------- legends ---------- */}
      <div
        style={{
          position: 'absolute', left: 593, top: 28, width: 307, height: 133, boxSizing: 'border-box',
          border: '1px solid #cccccc', borderRadius: 4, background: 'rgba(255,255,255,0.8)', paddingTop: 0,
        }}
      >
        <LegendRow color={PURPLE} width={1.6} text="m(F275W)" h={32} lineLeft={8} lineW={46} gap={17} />
        <LegendRow color={ORANGE} width={1.6} text="m(F606W)" h={32} lineLeft={8} lineW={46} gap={17} />
        <LegendRow color={BLUE} width={4.2} text="m(F275W) Percentile" h={32} lineLeft={8} lineW={46} gap={17} />
        <LegendRow color={RED} width={4.2} text="m(F606W) Percentile" h={32} lineLeft={8} lineW={46} gap={17} />
      </div>
      <div
        style={{
          position: 'absolute', left: 448, top: 1165, width: 452, height: 72, boxSizing: 'border-box',
          border: '1px solid #cccccc', borderRadius: 4, background: 'rgba(255,255,255,0.8)', paddingTop: 2,
        }}
      >
        <LegendRow color={GRAY} width={1.6} text="m(F275W) - m(F606W)" h={31} lineLeft={6} lineW={45} gap={17} />
        <LegendRow color="#000" width={4.2} text="m(F275W) - m(F606W) Percentiles" h={31} lineLeft={6} lineW={45} gap={17} />
      </div>
    </div>
  );
}
